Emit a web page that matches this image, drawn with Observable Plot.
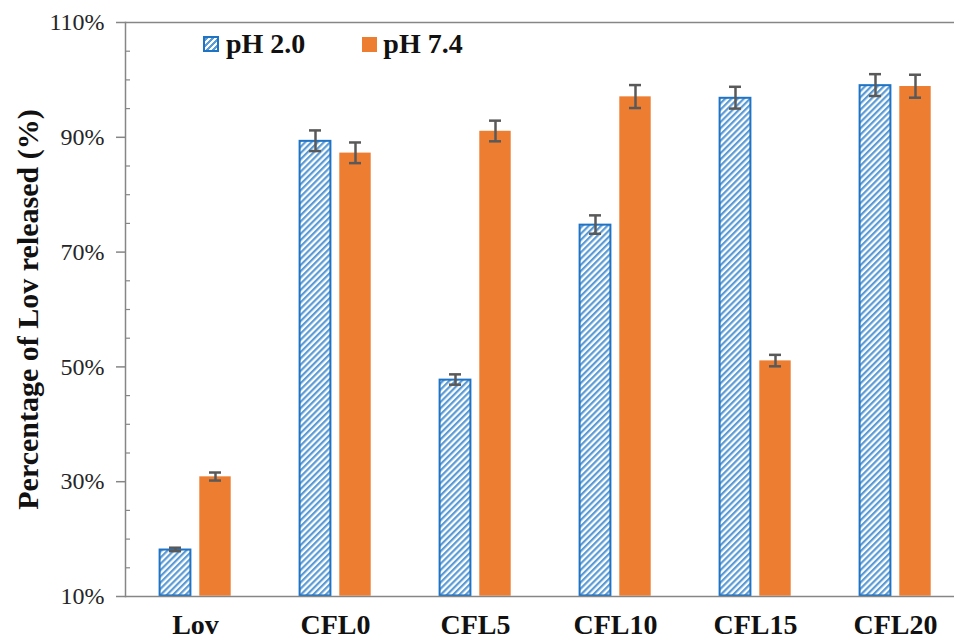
<!DOCTYPE html>
<html>
<head>
<meta charset="utf-8">
<script src="https://cdn.jsdelivr.net/npm/d3@7"></script>
<script src="https://cdn.jsdelivr.net/npm/@observablehq/plot@0.6"></script>
<style>
  body { margin: 0; background: #fff; }
  #wrap { position: relative; width: 954px; height: 639px; overflow: hidden; font-family: "Liberation Serif", "Times New Roman", serif; }
  #wrap svg text { font-family: "Liberation Serif", "Times New Roman", serif; }
  #legend { position: absolute; left: 203px; top: 28px; display: flex; align-items: center; font-weight: bold; font-size: 28px; color: #111; }
  .sw { width: 14px; height: 14px; display: inline-block; }
  .sw.hatch { border: 2px solid #1F73C4; background: repeating-linear-gradient(135deg, #5B9BD5 0 2.2px, #fff 2.2px 4.4px); width: 12px; height: 12px; }
  .sw.orange { background: #ED7D31; width: 15px; height: 15px; }
  .item { display: flex; align-items: center; }
</style>
</head>
<body>
<div id="wrap">
  <div id="legend"></div>
</div>
<script>
// ---- data ----
const categories = ["Lov", "CFL0", "CFL5", "CFL10", "CFL15", "CFL20"];
const seriesNames = ["pH 2.0", "pH 7.4"];
const valuesPH20 = [18.2, 89.4, 47.8, 74.8, 96.9, 99.1];
const valuesPH74 = [30.9, 87.3, 91.1, 97.1, 51.1, 98.9];
const errorsPH20 = [0.3, 1.8, 0.9, 1.6, 1.9, 1.9];
const errorsPH74 = [0.7, 1.8, 1.8, 2.0, 1.0, 2.0];
const yTicks = [10, 30, 50, 70, 90, 110];
const yMinorTicks = [15, 20, 25, 35, 40, 45, 55, 60, 65, 75, 80, 85, 95, 100, 105];
const yLabel = "Percentage of Lov released (%)";

const rows = [];
categories.forEach((c, i) => {
  rows.push({cat: c, series: seriesNames[0], value: valuesPH20[i], err: errorsPH20[i]});
  rows.push({cat: c, series: seriesNames[1], value: valuesPH74[i], err: errorsPH74[i]});
});
const rows20 = rows.filter(d => d.series === seriesNames[0]);
const rows74 = rows.filter(d => d.series === seriesNames[1]);

const axisColor = "#868686";
const errColor = "#595959";
const serif = '"Liberation Serif", "Times New Roman", serif';

const chart = Plot.plot({
  width: 954,
  height: 639,
  marginLeft: 124,
  marginRight: -12,
  marginTop: 22,
  marginBottom: 43,
  style: {fontFamily: serif, background: "white", overflow: "visible"},
  fx: {domain: categories, padding: 0, label: null},
  x: {domain: seriesNames, paddingInner: 0.2, paddingOuter: 0.83, axis: null},
  y: {domain: [10, 110], label: null},
  marks: [
    Plot.barY(rows20, {fx: "cat", x: "series", y1: 10, y2: "value", fill: "url(#hatch)", stroke: "#1F73C4", strokeWidth: 2, inset: 0.6}),
    Plot.barY(rows74, {fx: "cat", x: "series", y1: 10, y2: "value", fill: "#ED7D31", inset: 0.3}),
    Plot.ruleX(rows, {fx: "cat", x: "series", y1: d => d.value - d.err, y2: d => d.value + d.err, stroke: errColor, strokeWidth: 2.5}),
    Plot.tickY(rows, {fx: "cat", x: "series", y: d => d.value - d.err, stroke: errColor, strokeWidth: 2.5, insetLeft: 10, insetRight: 10}),
    Plot.tickY(rows, {fx: "cat", x: "series", y: d => d.value + d.err, stroke: errColor, strokeWidth: 2.5, insetLeft: 10, insetRight: 10}),
    Plot.ruleY([10], {stroke: axisColor, strokeWidth: 1.5}),
    Plot.ruleY([110], {stroke: axisColor, strokeWidth: 1.5}),
    Plot.frame({anchor: "left", facetAnchor: "left", stroke: axisColor, strokeWidth: 1.5}),
    Plot.axisY({ticks: yTicks, tickSize: 9, tickPadding: 12, tickFormat: d => d + "%", fontSize: 24, fontFamily: serif, fontVariant: "normal", stroke: axisColor, strokeWidth: 1.5, fill: "#262626", label: null}),
    Plot.axisY({ticks: yMinorTicks, tickSize: -5, tickFormat: () => "", stroke: axisColor, strokeWidth: 1.2, label: null}),
    Plot.axisFx({anchor: "bottom", tickSize: 0, tickPadding: 18, fontSize: 28, fontWeight: "bold", fontFamily: serif, fill: "#111", label: null}),
    Plot.text([yLabel], {frameAnchor: "left", facetAnchor: "left", textAnchor: "middle", rotate: -90, dx: -97, fontSize: 30, fontWeight: "bold", fontFamily: serif, fill: "#111"})
  ]
});

d3.select(chart).insert("defs", ":first-child").html(
  '<pattern id="hatch" patternUnits="userSpaceOnUse" width="4.4" height="4.4" patternTransform="rotate(45)">' +
  '<rect width="4.4" height="4.4" fill="#fff"/><rect width="2.2" height="4.4" fill="#5B9BD5"/></pattern>'
);

const wrap = document.getElementById("wrap");
wrap.insertBefore(chart, wrap.firstChild);

const legend = d3.select("#legend");
const it1 = legend.append("div").attr("class", "item");
it1.append("span").attr("class", "sw hatch");
it1.append("span").style("margin-left", "7px").text(seriesNames[0]);
const it2 = legend.append("div").attr("class", "item").style("margin-left", "57px");
it2.append("span").attr("class", "sw orange");
it2.append("span").style("margin-left", "6px").text(seriesNames[1]);
</script>
</body>
</html>
